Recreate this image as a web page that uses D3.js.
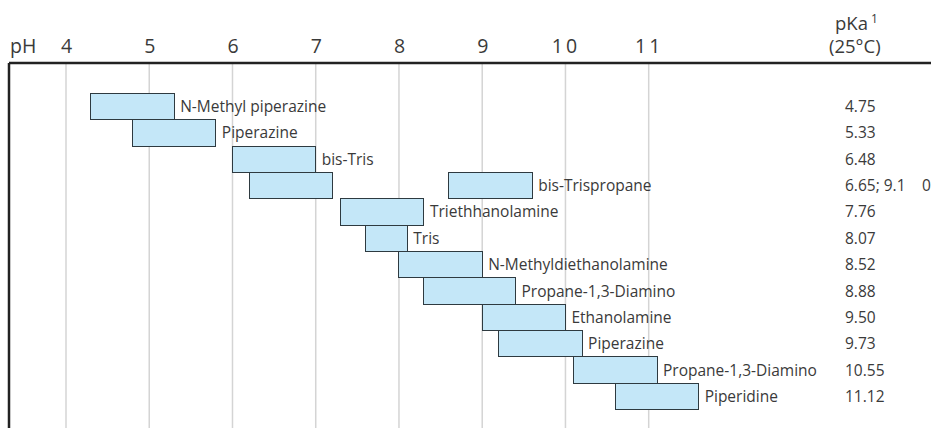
<!DOCTYPE html>
<html>
<head>
<meta charset="utf-8">
<script src="https://cdn.jsdelivr.net/npm/d3@7"></script>
<style>
  html, body { margin: 0; padding: 0; background: #fff; }
  svg { display: block; font-family: "Open Sans", "Noto Sans", sans-serif; }
</style>
</head>
<body>
<svg id="chart" width="931" height="428"></svg>
<script>
// Buffer substances, one row each (top to bottom)
const buffers = [
  "N-Methyl piperazine", "Piperazine", "bis-Tris", "bis-Trispropane",
  "Triethhanolamine", "Tris", "N-Methyldiethanolamine", "Propane-1,3-Diamino",
  "Ethanolamine", "Piperazine", "Propane-1,3-Diamino", "Piperidine"
];
// Useful pH range of each buffer (low / high end)
const rangeLow  = [4.3, 4.8, 6.0, 6.2, 7.3, 7.6, 8.0, 8.3, 9.0, 9.2, 10.1, 10.6];
const rangeHigh = [5.3, 5.8, 7.0, 7.2, 8.3, 8.1, 9.0, 9.4, 10.0, 10.2, 11.1, 11.6];
// Second buffering range (bis-Trispropane has two pKa values)
const secondLow  = [null, null, null, 8.6, null, null, null, null, null, null, null, null];
const secondHigh = [null, null, null, 9.6, null, null, null, null, null, null, null, null];
// pKa at 25 °C as printed in the right-hand column
const pKaText = ["4.75", "5.33", "6.48", "6.65; 9.1", "7.76", "8.07", "8.52",
                 "8.88", "9.50", "9.73", "10.55", "11.12"];
const pKaTail = [null, null, null, "0", null, null, null, null, null, null, null, null];
// pH axis ticks
const phTicks = [4, 5, 6, 7, 8, 9, 10, 11];

const svg = d3.select("#chart");
const W = 931, H = 428;
const frameLeft = 9, frameTop = 63;
const textColor = "#3a3a3a";
const labelSize = 15.5;

const x = d3.scaleLinear().domain([4, 11]).range([66, 648.7]);
const y = d3.scaleBand().domain(d3.range(buffers.length)).range([93.3, 409.7]).paddingInner(0);

// vertical grid lines at each pH unit
svg.append("g")
  .selectAll("line")
  .data(phTicks)
  .join("line")
  .attr("x1", d => x(d)).attr("x2", d => x(d))
  .attr("y1", frameTop).attr("y2", H)
  .attr("stroke", "#d4d4d4")
  .attr("stroke-width", 1.5);

// pH axis labels along the top
const axis = d3.axisTop(x).tickValues(phTicks).tickSize(0).tickPadding(0).tickFormat(d3.format("d"));
const axisG = svg.append("g").attr("transform", `translate(0,${frameTop - 10})`).call(axis);
axisG.select(".domain").remove();
axisG.selectAll("text")
  .attr("font-size", 19.5)
  .attr("fill", textColor)
  .attr("dy", 0)
  .attr("letter-spacing", d => d >= 10 ? 3 : 0)
  .attr("font-family", "'Open Sans', sans-serif");

svg.append("text")
  .attr("x", 10).attr("y", frameTop - 10)
  .attr("font-size", 19.5).attr("fill", textColor)
  .text("pH");

// pKa column header
const hdr = svg.append("text")
  .attr("x", 835).attr("y", 30)
  .attr("font-size", 18.5).attr("fill", textColor);
hdr.append("tspan").text("pKa");
hdr.append("tspan").attr("dx", 3).attr("dy", -7).attr("font-size", 12).text("1");
svg.append("text")
  .attr("x", 829).attr("y", 53)
  .attr("font-size", 18.5).attr("fill", textColor)
  .text("(25°C)");

// frame: top rule and left rule
svg.append("line")
  .attr("x1", frameLeft).attr("x2", W)
  .attr("y1", frameTop).attr("y2", frameTop)
  .attr("stroke", "#222").attr("stroke-width", 2.5);
svg.append("line")
  .attr("x1", frameLeft).attr("x2", frameLeft)
  .attr("y1", frameTop).attr("y2", H)
  .attr("stroke", "#222").attr("stroke-width", 2.5);

const rows = svg.append("g")
  .selectAll("g")
  .data(buffers.map((name, i) => ({
    name, i,
    lo: rangeLow[i], hi: rangeHigh[i],
    lo2: secondLow[i], hi2: secondHigh[i],
    pka: pKaText[i], tail: pKaTail[i]
  })))
  .join("g");

const barStyle = sel => sel
  .attr("fill", "#c4e7f8")
  .attr("stroke", "#2e3a40")
  .attr("stroke-width", 1)
  .attr("shape-rendering", "crispEdges");

rows.append("rect")
  .attr("x", d => x(d.lo))
  .attr("y", d => y(d.i))
  .attr("width", d => x(d.hi) - x(d.lo))
  .attr("height", y.bandwidth())
  .call(barStyle);

rows.filter(d => d.lo2 != null).append("rect")
  .attr("x", d => x(d.lo2))
  .attr("y", d => y(d.i))
  .attr("width", d => x(d.hi2) - x(d.lo2))
  .attr("height", y.bandwidth())
  .call(barStyle);

// buffer names right of the (last) bar
rows.append("text")
  .attr("x", d => x(d.hi2 != null ? d.hi2 : d.hi) + 6)
  .attr("y", d => y(d.i) + y.bandwidth() / 2 + 5.5)
  .attr("font-size", labelSize)
  .attr("fill", textColor)
  .text(d => d.name);

// pKa values column
rows.append("text")
  .attr("x", 845)
  .attr("y", d => y(d.i) + y.bandwidth() / 2 + 5.5)
  .attr("font-size", labelSize)
  .attr("fill", textColor)
  .text(d => d.pka);
rows.filter(d => d.tail != null).append("text")
  .attr("x", 922)
  .attr("y", d => y(d.i) + y.bandwidth() / 2 + 5.5)
  .attr("font-size", labelSize)
  .attr("fill", textColor)
  .text(d => d.tail);
</script>
</body>
</html>
